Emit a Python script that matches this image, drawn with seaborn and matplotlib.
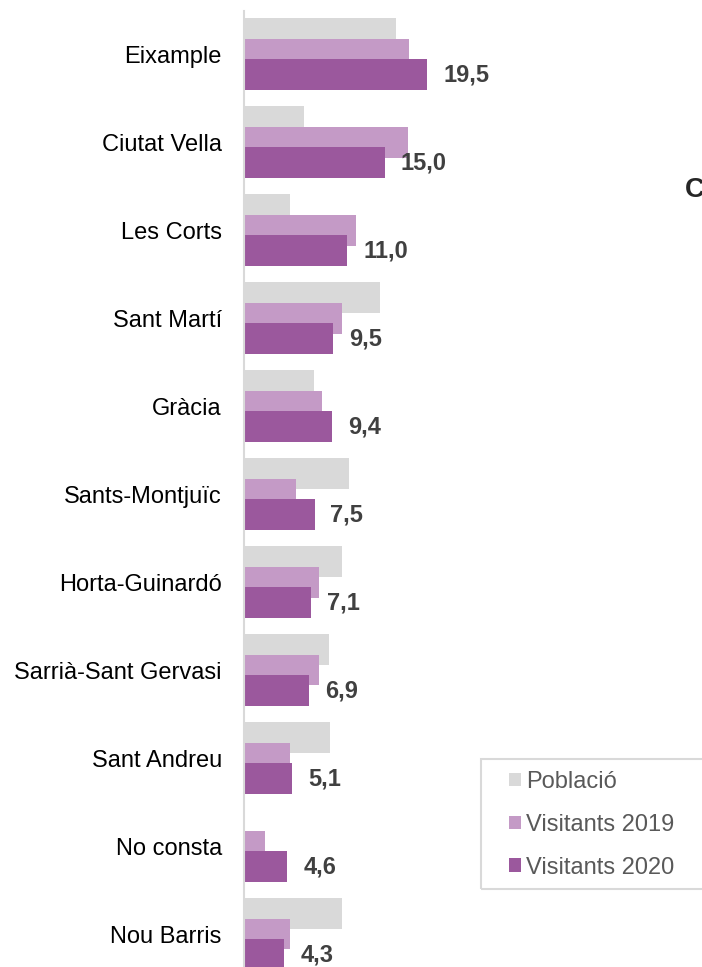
import numpy as np
import matplotlib.pyplot as plt
from matplotlib.patches import Patch, Rectangle
import seaborn as sns

# Dades (%) per districte
districtes = ['Eixample', 'Ciutat Vella', 'Les Corts', 'Sant Martí', 'Gràcia',
              'Sants-Montjuïc', 'Horta-Guinardó', 'Sarrià-Sant Gervasi',
              'Sant Andreu', 'No consta', 'Nou Barris']
poblacio = [16.2, 6.4, 4.9, 14.5, 7.4, 11.2, 10.4, 9.0, 9.1, 0.0, 10.4]
visitants_2019 = [17.6, 17.4, 11.9, 10.4, 8.3, 5.5, 8.0, 8.0, 4.9, 2.2, 4.9]
visitants_2020 = [19.5, 15.0, 11.0, 9.5, 9.4, 7.5, 7.1, 6.9, 5.1, 4.6, 4.3]
series = ['Població', 'Visitants 2019', 'Visitants 2020']
colors = ['#D9D9D9', '#C49AC6', '#9B589D']

sns.set_style('white')
plt.rcParams['font.family'] = ['Liberation Sans', 'DejaVu Sans']

fig = plt.figure(figsize=(7.02, 9.67), dpi=100)
ax = fig.add_axes([244 / 702, 0, 458 / 702, 956 / 967])

# barres solapades estil Excel
pos = np.arange(len(districtes))
offsets = [-0.233, 0, 0.233]
for vals, off, col in zip([poblacio, visitants_2019, visitants_2020], offsets, colors):
    sns.barplot(x=vals, y=pos + off, orient='h', native_scale=True, width=0.352,
                color=col, saturation=1, errorbar=None, linewidth=0, ax=ax)

etiquetes = [f'{v:.1f}'.replace('.', ',') for v in visitants_2020]
ax.bar_label(ax.containers[-1], labels=etiquetes, padding=11.5, fontsize=17,
             fontweight='bold', color='#404040')

ax.set_xlim(0, 458 / 9.4)
ax.set_ylim(10.375, -0.489)
ax.set_yticks(pos, districtes)
ax.set_xticks([])
ax.set_xlabel('')
ax.set_ylabel('')
ax.tick_params(axis='y', length=0, pad=16, labelsize=17, labelcolor='black')
for s in ['top', 'right', 'bottom']:
    ax.spines[s].set_visible(False)
ax.spines['left'].set_color('#D9D9D9')
ax.spines['left'].set_linewidth(1.5)

# títol (tallat a la dreta, com a l'original)
fig.text(685 / 702, 1 - 190 / 967, 'C', fontsize=20, fontweight='bold',
         va='center', ha='left')

# llegenda
fig.add_artist(Rectangle((481 / 702, 1 - 889 / 967), 300 / 702, 130 / 967,
                         transform=fig.transFigure, fill=False,
                         edgecolor='#D9D9D9', linewidth=1.5))
handles = [Patch(facecolor=c, edgecolor='none') for c in colors]
ax.legend(handles, series, loc='upper left', bbox_to_anchor=(509 / 702, 1 - 771 / 967),
          bbox_transform=fig.transFigure, frameon=False, borderpad=0, borderaxespad=0,
          fontsize=17, labelcolor='#595959', handlelength=0.51, handleheight=0.51,
          handletextpad=0.21, labelspacing=0.88)

fig.savefig('out.png', dpi=100)
